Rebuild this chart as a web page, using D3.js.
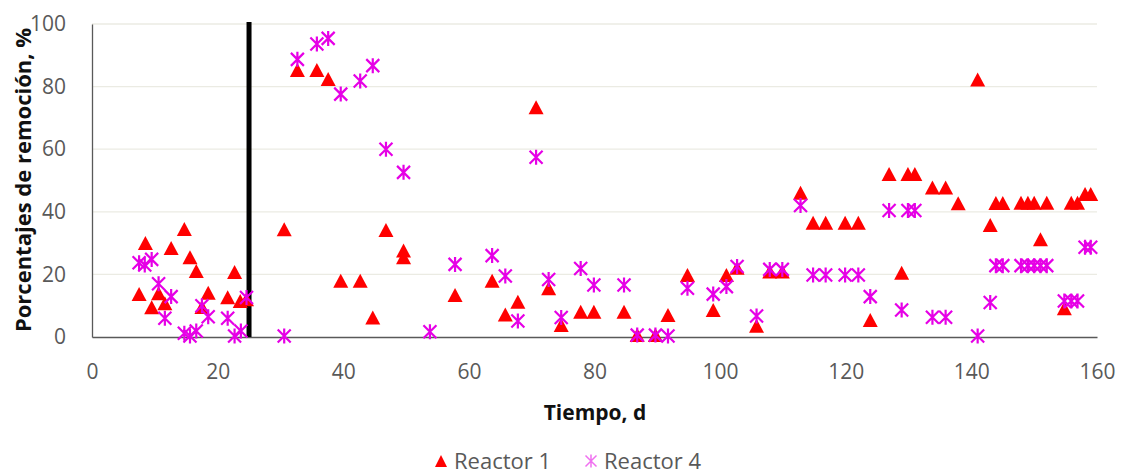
<!DOCTYPE html>
<html>
<head>
<meta charset="utf-8">
<script src="https://cdn.jsdelivr.net/npm/d3@7"></script>
<style>
  body { margin: 0; background: #fff; }
  svg { font-family: "Open Sans", Lato, sans-serif; }
</style>
</head>
<body>
<div id="chart"></div>
<script>
// Reactor 1 (triangles)
const r1Days = [7.5, 8.5, 9.5, 10.6, 11.6, 12.6, 14.7, 15.6, 16.6, 17.5, 18.5, 21.6, 22.7, 23.6, 24.6,
  30.6, 32.7, 35.8, 37.6, 39.6, 42.7, 44.7, 46.8, 49.6, 49.6, 57.8, 63.7, 65.8, 67.8, 70.7, 72.7, 74.7,
  77.8, 79.9, 84.7, 86.8, 89.7, 91.7, 94.8, 98.9, 101, 102.7, 105.8, 107.9, 109.9, 112.8, 114.8, 116.8,
  119.9, 122, 123.9, 126.9, 128.9, 129.9, 131, 133.8, 135.9, 137.9, 141, 143, 143.9, 145, 147.9, 149,
  150, 151, 152, 154.8, 155.9, 156.9, 158.1, 159];
const r1Vals = [13.7, 30, 9.5, 14, 10.8, 28.4, 34.5, 25.5, 21.1, 9.6, 14.1, 12.7, 20.8, 11.5, 12.1,
  34.4, 85.3, 85.3, 82.4, 18, 18, 6.2, 34.2, 27.6, 25.5, 13.4, 18, 7.2, 11.3, 73.4, 15.6, 3.8,
  8.1, 8.1, 8.1, 0.6, 0.6, 7, 19.8, 8.6, 19.8, 22.1, 3.6, 20.9, 20.9, 46.1, 36.5, 36.5,
  36.5, 36.5, 5.4, 52.1, 20.5, 52.1, 52.1, 47.8, 47.8, 42.7, 82.3, 35.8, 42.8, 42.8, 42.9, 42.9,
  42.9, 31.2, 42.9, 9.2, 42.9, 42.9, 45.7, 45.7];

// Reactor 4 (asterisks)
const r4Days = [7.5, 8.4, 9.5, 10.6, 11.6, 12.6, 14.7, 15.6, 16.6, 17.5, 18.5, 21.6, 22.7, 23.7, 24.6,
  30.6, 32.7, 35.8, 37.6, 39.6, 42.7, 44.7, 46.8, 49.6, 53.8, 57.8, 63.7, 65.8, 67.8, 70.7, 72.7, 74.7,
  77.8, 79.9, 84.7, 86.8, 89.7, 91.7, 94.8, 98.9, 101, 102.7, 105.8, 107.9, 109.9, 112.8, 114.8, 116.8,
  119.9, 122, 123.9, 126.9, 128.9, 129.9, 131, 133.8, 135.9, 141, 143, 143.9, 145, 147.9, 149,
  150, 151, 152, 154.8, 155.9, 156.9, 158.1, 159];
const r4Vals = [23.7, 23, 24.8, 17, 6, 12.9, 1.2, 0.3, 1.9, 10, 6.5, 6, 0.3, 1.9, 12.6,
  0.3, 88.7, 93.6, 95.4, 77.6, 81.8, 86.7, 60, 52.6, 1.7, 23.2, 26, 19.5, 5.1, 57.4, 18.4, 6.2,
  21.9, 16.6, 16.6, 0.6, 0.6, 0.3, 15.6, 13.7, 16.1, 22.5, 6.7, 21.6, 21.6, 42, 19.8, 19.8,
  19.8, 19.8, 12.9, 40.4, 8.6, 40.4, 40.4, 6.3, 6.3, 0.3, 11, 22.8, 22.8, 22.8, 22.8,
  22.8, 22.8, 22.8, 11.5, 11.5, 11.5, 28.7, 28.7];

const xTicks = [0, 20, 40, 60, 80, 100, 120, 140, 160];
const yTicks = [0, 20, 40, 60, 80, 100];
const markerDay = 25;
const seriesNames = ['Reactor 1', 'Reactor 4'];

const width = 1121, height = 475;
const margin = { top: 24, right: 24, bottom: 138, left: 92 };
const red = '#ff0000', pink = '#e600e6';

const svg = d3.select('#chart').append('svg')
  .attr('width', width)
  .attr('height', height);

const x = d3.scaleLinear().domain([0, 160]).range([margin.left, width - margin.right]);
const y = d3.scaleLinear().domain([0, 100]).range([height - margin.bottom, margin.top]);

// gridlines
svg.append('g')
  .selectAll('line')
  .data(yTicks.filter(d => d > 0))
  .enter()
  .append('line')
  .attr('x1', x(0)).attr('x2', x(160))
  .attr('y1', d => y(d)).attr('y2', d => y(d))
  .style('stroke', '#ebebe3')
  .style('stroke-width', 1.3);

// axes
const xAxis = svg.append('g')
  .attr('transform', `translate(0,${y(0)})`)
  .call(d3.axisBottom(x).tickValues(xTicks).tickSize(0).tickPadding(27));
const yAxis = svg.append('g')
  .attr('transform', `translate(${x(0)},0)`)
  .call(d3.axisLeft(y).tickValues(yTicks).tickSize(0).tickPadding(26));

[xAxis, yAxis].forEach(a => {
  a.select('.domain').style('stroke', '#595959').style('stroke-width', 1.3);
  a.selectAll('text').style('font-size', '21px').style('fill', '#595959')
    .style('font-family', '"Open Sans", Lato, sans-serif');
});

// vertical line at day 25
svg.append('line')
  .attr('x1', x(markerDay)).attr('x2', x(markerDay))
  .attr('y1', y(100.6)).attr('y2', y(0))
  .style('stroke', '#000')
  .style('stroke-width', 5);

// marker shapes
const triPath = 'M0,-7L7.5,7L-7.5,7Z';
const starPath = 'M0,-7.5V7.5M-6.5,-6.5L6.5,6.5M-6.5,6.5L6.5,-6.5';

const r1 = r1Days.map((d, i) => ({ day: d, val: r1Vals[i] }));
const r4 = r4Days.map((d, i) => ({ day: d, val: r4Vals[i] }));

svg.append('g')
  .selectAll('path')
  .data(r1)
  .enter()
  .append('path')
  .attr('d', triPath)
  .attr('transform', d => `translate(${x(d.day)},${y(d.val)})`)
  .style('fill', red);

svg.append('g')
  .selectAll('path')
  .data(r4)
  .enter()
  .append('path')
  .attr('d', starPath)
  .attr('transform', d => `translate(${x(d.day)},${y(d.val)})`)
  .style('fill', 'none')
  .style('stroke', pink)
  .style('stroke-width', 2.2);

// axis titles
svg.append('text')
  .attr('x', 595)
  .attr('y', 420)
  .attr('text-anchor', 'middle')
  .style('font-size', '21px')
  .style('font-weight', 'bold')
  .style('fill', '#111')
  .text('Tiempo, d');

svg.append('text')
  .attr('transform', `translate(31,180) rotate(-90)`)
  .attr('text-anchor', 'middle')
  .style('font-size', '22px')
  .style('font-weight', 'bold')
  .style('fill', '#111')
  .text('Porcentajes de remoción, %');

// legend
const legend = svg.append('g').attr('transform', 'translate(0,461)');
const legendX = [441, 591];
const legTri = 'M0,-6L6,6L-6,6Z';
const legStar = 'M0,-6.5V6.5M-5.5,-5.5L5.5,5.5M-5.5,5.5L5.5,-5.5';
seriesNames.forEach((name, i) => {
  const g = legend.append('g').attr('transform', `translate(${legendX[i]},0)`);
  if (i === 0) {
    g.append('path').attr('d', legTri).style('fill', red);
  } else {
    g.append('path').attr('d', legStar).style('fill', 'none')
      .style('stroke', '#f070f0').style('stroke-width', 1.5);
  }
  g.append('text')
    .attr('x', 13)
    .attr('dy', '0.36em')
    .style('font-size', '22px')
    .style('fill', '#595959')
    .text(name);
});
</script>
</body>
</html>
